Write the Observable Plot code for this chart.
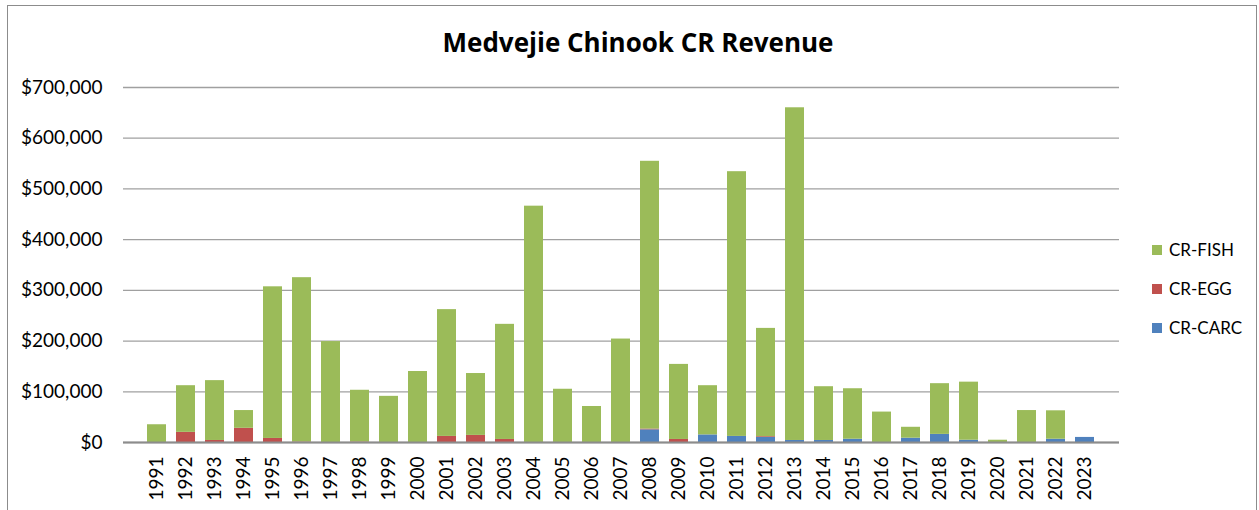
<!DOCTYPE html>
<html>
<head>
<meta charset="utf-8">
<script src="https://cdn.jsdelivr.net/npm/d3@7"></script>
<script src="https://cdn.jsdelivr.net/npm/@observablehq/plot@0.6"></script>
<style>
  body { margin: 0; background: #fff; font-family: Lato, "Open Sans", sans-serif; }
  #wrap { position: relative; width: 1259px; height: 510px; overflow: hidden; }
  #border { position: absolute; left: 7px; top: 5px; width: 1250px; height: 510px; border: 1px solid #8c8c8c; box-sizing: border-box; }
  #title { position: absolute; left: 0; top: 24px; width: 1276px; text-align: center; font-family: "Open Sans", sans-serif; font-weight: bold; font-size: 26px; line-height: 36px; color: #000; }
  #legend { position: absolute; left: 1152px; top: 230px; font-size: 17px; color: #000; }
  .li { display: flex; align-items: center; height: 39px; }
  .sw { width: 10px; height: 10px; margin-right: 7px; }
  #chart { position: absolute; left: 0; top: 0; }
</style>
</head>
<body>
<div id="wrap">
  <div id="border"></div>
  <div id="chart"></div>
  <div id="title">Medvejie Chinook CR Revenue</div>
  <div id="legend"></div>
</div>
<script>
const years = ["1991","1992","1993","1994","1995","1996","1997","1998","1999","2000","2001","2002","2003","2004","2005","2006","2007","2008","2009","2010","2011","2012","2013","2014","2015","2016","2017","2018","2019","2020","2021","2022","2023"];
const crCarc = [0,0,0,0,0,0,0,0,0,0,0,0,0,0,0,0,0,25000,0,15000,12000,10000,4000,4000,6500,0,8500,16000,4500,0,0,6500,10000];
const crEgg  = [0,20000,4000,28000,8000,1000,0,1000,0,0,12000,14000,6000,0,0,0,0,1500,6000,0,0,1500,0,0,0,0,0,0,0,0,0,0,0];
const crFish = [35000,92000,118000,35000,299000,324000,199000,102000,91000,140000,250000,122000,227000,466000,105000,71000,204000,528000,148000,97000,522000,213500,656000,106000,99500,60000,21500,100000,114500,4500,63000,56000,0];
const seriesNames = ["CR-CARC","CR-EGG","CR-FISH"];
const seriesColors = ["#4F81BD","#C0504D","#9BBB59"];
const yTicks = [0,100000,200000,300000,400000,500000,600000,700000];

const data = [];
years.forEach((y, i) => {
  data.push({year: y, series: "CR-CARC", value: crCarc[i]});
  data.push({year: y, series: "CR-EGG", value: crEgg[i]});
  data.push({year: y, series: "CR-FISH", value: crFish[i]});
});

const chart = Plot.plot({
  width: 1259,
  height: 510,
  marginLeft: 123,
  marginRight: 140,
  marginTop: 87,
  marginBottom: 68,
  style: {fontFamily: "Lato, 'Open Sans', sans-serif", fontSize: "19px", color: "#000", background: "transparent"},
  x: {domain: years, padding: 0.34, label: null},
  y: {domain: [0, 700000], label: null},
  color: {domain: seriesNames, range: seriesColors},
  marks: [
    Plot.gridY(yTicks, {stroke: "#a0a0a0", strokeOpacity: 1, strokeWidth: 1.3}),
    Plot.barY(data, {x: "year", y: "value", fill: "series", order: seriesNames}),
    Plot.ruleX([0], {frameAnchor: "left", stroke: "#8c8c8c", strokeWidth: 1.3}),
    Plot.ruleY([0], {stroke: "#8c8c8c", strokeWidth: 2}),
    Plot.axisY(yTicks, {tickSize: 0, tickPadding: 21, tickFormat: d3.format("$,"), fontSize: 19, label: null}),
    Plot.axisX({tickSize: 0, tickPadding: 14, tickRotate: -90, fontSize: 19, label: null})
  ]
});
document.getElementById("chart").appendChild(chart);

const legend = document.getElementById("legend");
["CR-FISH","CR-EGG","CR-CARC"].forEach(n => {
  const row = document.createElement("div");
  row.className = "li";
  const sw = document.createElement("div");
  sw.className = "sw";
  sw.style.background = seriesColors[seriesNames.indexOf(n)];
  const t = document.createElement("span");
  t.textContent = n;
  row.appendChild(sw); row.appendChild(t);
  legend.appendChild(row);
});
</script>
</body>
</html>
